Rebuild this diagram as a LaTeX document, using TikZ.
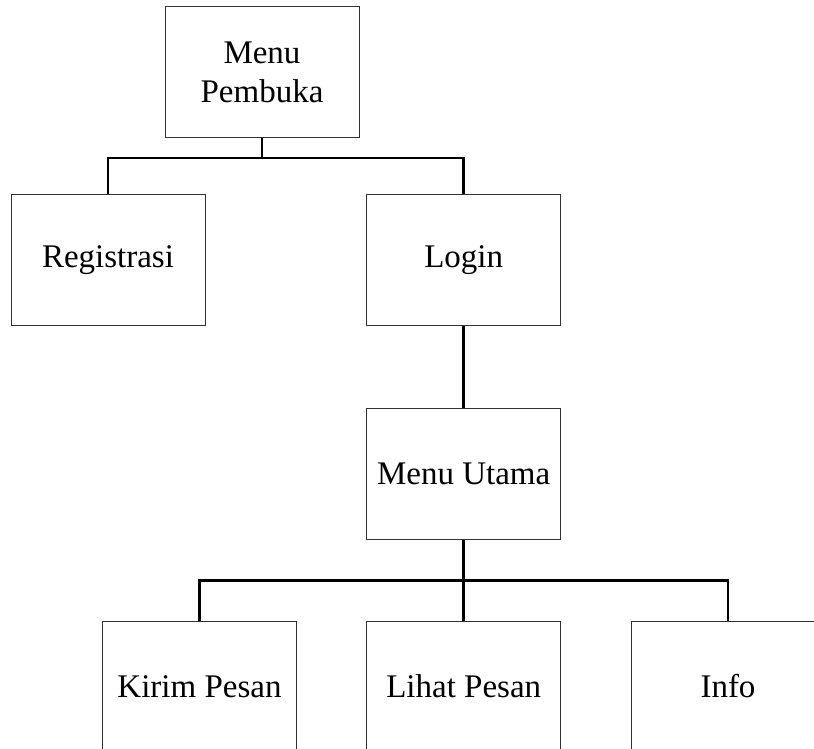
\documentclass[tikz,border=0pt]{standalone}
\usepackage{fontspec}
\setmainfont{Liberation Serif}
\begin{document}
\begin{tikzpicture}[x=1pt,y=-1pt,
  box/.style={draw=black!80, line width=0.9pt, fill=white, minimum width=194pt,
    minimum height=131pt, inner sep=0pt, align=center,
    font=\fontsize{33}{39}\selectfont},
  conn/.style={line width=2.8pt, black}]
  \useasboundingbox (0,0) rectangle (814,748);
  \clip (0,0) rectangle (814,748);

  % menu tree nodes
  \node[box] (mp)    at (262,72)      {Menu\\Pembuka};
  \node[box] (reg)   at (108,260)     {Registrasi};
  \node[box] (login) at (463.7,260)   {Login};
  \node[box] (mu)    at (463.7,473.7) {Menu Utama};
  \node[box] (kirim) at (199.5,686.5) {Kirim Pesan};
  \node[box] (lihat) at (463.7,686.5) {Lihat Pesan};
  \node[box] (info)  at (728,686.5)   {Info};

  % horizontal buses
  \coordinate (bus1) at (262,158);
  \coordinate (bus2) at (463.7,580.7);

  % connectors
  \draw[conn] (mp.south) -- (bus1);
  \draw[conn] (reg.north) |- (bus1) -| (login.north);
  \draw[conn] (login.south) -- (mu.north);
  \draw[conn] (mu.south) -- (lihat.north);
  \draw[conn] (kirim.north) |- (bus2) -| (info.north);
\end{tikzpicture}
\end{document}
